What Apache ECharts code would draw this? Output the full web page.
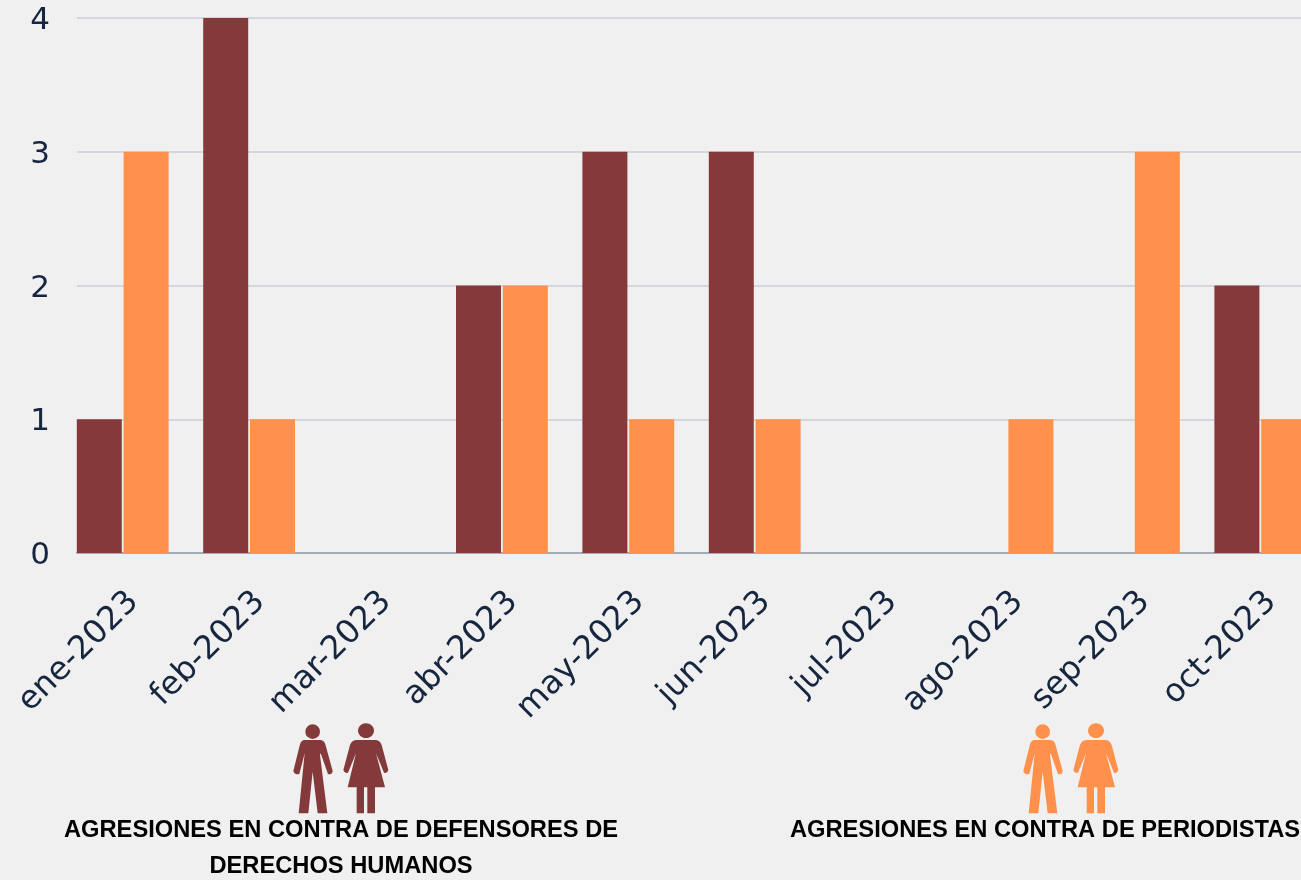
<!DOCTYPE html>
<html><head><meta charset="utf-8">
<style>html,body{margin:0;padding:0;background:#f0f0f0;overflow:hidden;width:1301px;height:880px}#c{width:1340px;height:880px}</style>
<script src="https://cdn.jsdelivr.net/npm/echarts@6/dist/echarts.min.js"></script>
</head><body><div id="c"></div>
<script>
const categories = ['ene-2023','feb-2023','mar-2023','abr-2023','may-2023','jun-2023','jul-2023','ago-2023','sep-2023','oct-2023'];
const defensores = [1,4,0,2,3,3,0,0,0,2];
const periodistas = [3,1,0,2,1,1,0,1,3,1];
const yTicks = [0,1,2,3,4];
const labelDefensores = 'AGRESIONES EN CONTRA DE DEFENSORES DE\nDERECHOS HUMANOS';
const labelPeriodistas = 'AGRESIONES EN CONTRA DE PERIODISTAS';
const MAROON = '#843a3a', ORANGE = '#ff914d', INK = '#16263f';
const FONT = '"DejaVu Sans", sans-serif';
const manPath = 'M102 90 H152 Q162 91 166 103 L188 183 Q186 196 174 192 L152 130 L150 135 L172 310 H143 L128 185 L115 310 H86 L104 130 L88 192 Q74 196 70 183 L90 103 Q94 91 102 90Z';
const womanPath = 'M258 90 H318 Q330 92 335 105 L355 180 Q352 192 342 188 L318 130 L345 232 H315 V310 H292 V232 H282 V310 H260 V232 H233 L258 130 L234 188 Q224 192 220 180 L240 105 Q245 92 258 90Z';
echarts.graphic.registerShape('manShape', echarts.graphic.extendPath(manPath, {}));
echarts.graphic.registerShape('womanShape', echarts.graphic.extendPath(womanPath, {}));
function people(x, color){
  return {type:'group', x, y:710, scaleX:1/3, scaleY:1/3, silent:true, children:[
    {type:'circle', shape:{cx:128,cy:65,r:22}, style:{fill:color}},
    {type:'ellipse', shape:{cx:288,cy:62,rx:24,ry:22}, style:{fill:color}},
    {type:'manShape', style:{fill:color}},
    {type:'womanShape', style:{fill:color}}
  ]};
}
const chart = echarts.init(document.getElementById('c'), null, {renderer:'canvas'});
chart.setOption({
  backgroundColor:'#f0f0f0',
  animation:false,
  grid:[
    {left:77, top:18, width:1240, height:535},
    {left:59.5, top:18, width:1264, height:535},
    {left:70.5, top:21, width:1264, height:535}
  ],
  xAxis:[
    {gridIndex:0, type:'category', data:categories, axisLabel:{show:false}, axisTick:{show:false},
     axisLine:{show:true, lineStyle:{color:'#a3abb6', width:2}}, splitLine:{show:false}},
    {gridIndex:1, type:'category', data:categories, axisLine:{show:false}, axisTick:{show:false}, axisLabel:{show:false}},
    {gridIndex:2, type:'category', data:categories, axisLine:{show:false}, axisTick:{show:false},
     axisLabel:{show:true, interval:0, rotate:45, margin:41, fontFamily:FONT, fontSize:32.5, color:INK}}
  ],
  yAxis:[
    {gridIndex:0, type:'value', min:0, max:4, interval:1, axisLine:{show:false}, axisTick:{show:false}, axisLabel:{show:false},
     splitLine:{show:true, lineStyle:{color:'#d3d7dd', width:2}}},
    {gridIndex:1, type:'value', min:0, max:4, interval:1, show:false, splitLine:{show:false}},
    {gridIndex:2, type:'value', min:0, max:4, interval:1, axisLine:{show:false}, axisTick:{show:false}, splitLine:{show:false},
     axisLabel:{margin:20.5, fontFamily:FONT, fontSize:31, color:INK, formatter:v=>yTicks.includes(v)?String(v):''}}
  ],
  series:[
    {name:'Defensores', type:'bar', xAxisIndex:1, yAxisIndex:1, data:defensores, barWidth:45, barGap:'4%', itemStyle:{color:MAROON}},
    {name:'Periodistas', type:'bar', xAxisIndex:1, yAxisIndex:1, data:periodistas, barWidth:45, barGap:'4%', itemStyle:{color:ORANGE}}
  ],
  graphic:[
    people(270, MAROON),
    people(1000, ORANGE),
    {type:'text', x:341, y:812, style:{text:labelDefensores, fill:'#000', font:'bold 23.7px "Liberation Sans", Arial, sans-serif', align:'center', lineHeight:36}},
    {type:'text', x:1045, y:812, style:{text:labelPeriodistas, fill:'#000', font:'bold 23.7px "Liberation Sans", Arial, sans-serif', align:'center', lineHeight:36}}
  ]
});
</script></body></html>
